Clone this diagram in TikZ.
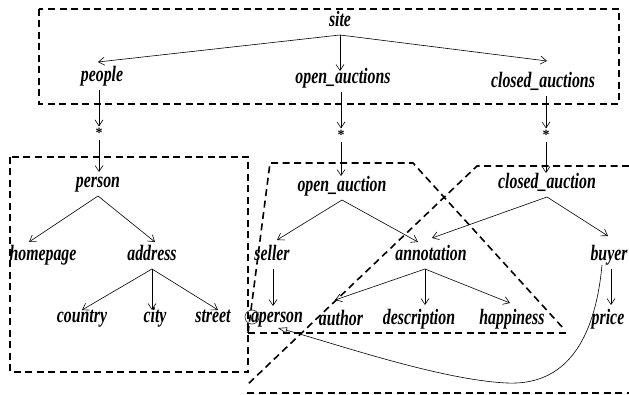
\documentclass[tikz,border=0pt]{standalone}
\usepackage{fontspec}
\setmainfont{Liberation Serif}
\newfontfamily\lblfont{Liberation Serif}[FakeStretch=0.72]
\usetikzlibrary{arrows.meta}
\tikzset{
  lbl/.style={font={\lblfont\bfseries\itshape\fontsize{22}{24}\selectfont},
              inner sep=2pt, outer sep=2pt, text height=12pt, text depth=4pt},
  starnode/.style={font={\bfseries\fontsize{14}{16}\selectfont},
              inner sep=1pt, outer sep=1pt},
  edge/.style={line width=0.6pt, -{Straight Barb[length=6pt,width=8pt]}},
  region/.style={line width=1.6pt, dash pattern=on 7pt off 4.5pt},
  ref/.style={line width=0.6pt, -{Triangle[open,length=9pt,width=6pt]}}
}
\begin{document}
\begin{tikzpicture}[x=1pt,y=-1pt]
\useasboundingbox (0,0) rectangle (629,395);

% grouping regions
\draw[region] (39,9) rectangle (619,104);
\draw[region] (10,157) rectangle (248,372);
\draw[region] (248,333) -- (270,163) -- (413,163) -- (563,328);
\draw[region] (248,333) -- (568,333);
\draw[region] (629,166) -- (477,166) -- (247,385);
\draw[region] (247,393) -- (629,393);

% schema nodes
\node[lbl] (site) at (340,23) {site};
\node[lbl] (people) at (102,78) {people};
\node[lbl] (oas) at (343,80) {open\_auctions};
\node[lbl] (cas) at (543,84) {closed\_auctions};
\node[starnode] (s1) at (99,133) {*};
\node[starnode] (s2) at (341,135) {*};
\node[starnode] (s3) at (546,135) {*};
\node[lbl] (person) at (98,184) {person};
\node[lbl] (homepage) at (43,257) {homepage};
\node[lbl] (address) at (152,257) {address};
\node[lbl] (country) at (82,318) {country};
\node[lbl] (city) at (155,318) {city};
\node[lbl] (street) at (213,318) {street};
\node[lbl] (oa) at (342,188) {open\_auction};
\node[lbl] (seller) at (272,257) {seller};
\node[lbl] (annotation) at (431,257) {annotation};
\node[lbl] (aperson) at (277,318) {aperson};
\node[lbl] (author) at (341,322) {author};
\node[lbl] (description) at (419,320) {description};
\node[lbl] (happiness) at (512,320) {happiness};
\node[lbl] (ca) at (547,185) {closed\_auction};
\node[lbl] (buyer) at (609,257) {buyer};
\node[lbl] (price) at (608,320) {price};

% marker around the reference attribute
\draw[black!75, line width=0.7pt] (252,317) circle [radius=7];

% edges
\draw[edge] (site.south) -- ([xshift=-4pt,yshift=4pt]people.north);
\draw[edge] (site.south) -- ([yshift=-3pt]site.south |- oas.north);
\draw[edge] (site.south) -- ([xshift=4pt,yshift=11pt]cas.north);
\draw[edge] (people.south -| s1) -- (s1.north);
\draw[edge] (oas.south -| s2) -- (s2.north);
\draw[edge] (cas.south -| s3) -- (s3.north);
\draw[edge] (s1.south) -- (s1.south |- person.north);
\draw[edge] (s2.south) -- (s2.south |- oa.north);
\draw[edge] (s3.south) -- (s3.south |- ca.north);
\draw[edge] (person.south) -- ([xshift=-14pt,yshift=3pt]homepage.north);
\draw[edge] (person.south) -- ([xshift=3pt,yshift=3pt]address.north);
\draw[edge] (address.south) -- ([yshift=-4pt]country.north);
\draw[edge] (address.south) -- ([yshift=-4pt]address.south |- city.north);
\draw[edge] (address.south) -- ([xshift=5pt,yshift=-4pt]street.north);
\draw[edge] (oa.south) -- ([xshift=5pt,yshift=5pt]seller.north);
\draw[edge] (oa.south) -- ([xshift=-13pt,yshift=3pt]annotation.north);
\draw[edge] (ca.south) -- ([xshift=1pt,yshift=7pt]annotation.north);
\draw[edge] (ca.south) -- ([xshift=-1pt,yshift=9pt]buyer.north);
\draw[edge] ([xshift=1pt]seller.south) -- ([xshift=1pt]seller.south |- aperson.north);
\draw[edge] ([xshift=-6pt]annotation.south) -- ([xshift=-6pt,yshift=10pt]author.north);
\draw[edge] ([xshift=-6pt]annotation.south) -- ([xshift=6pt,yshift=3pt]description.north);
\draw[edge] ([xshift=-6pt]annotation.south) -- ([xshift=-2pt,yshift=5pt]happiness.north);
\draw[edge] ([xshift=2pt]buyer.south) -- ([xshift=2pt,yshift=3pt]buyer.south |- price.north);

% reference from buyer back to the person it names
\draw[ref] ([xshift=-7pt,yshift=4pt]buyer.south)
  .. controls (596,330) and (572,386) .. (507,383)
  .. controls (440,380) and (330,342) .. ([xshift=1pt,yshift=2pt]aperson.south);
\end{tikzpicture}
\end{document}
